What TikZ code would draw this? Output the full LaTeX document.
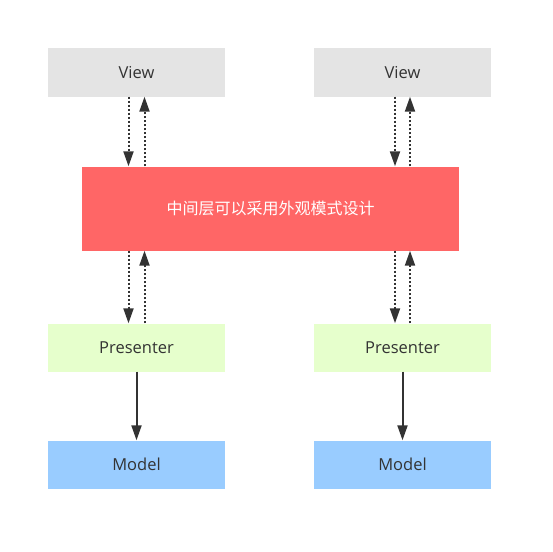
\documentclass[tikz,border=0pt]{standalone}
\usepackage{fontspec}
\setmainfont{Open Sans}
\newfontfamily\cjk{Noto Sans CJK SC}
\usetikzlibrary{arrows.meta}
\definecolor{viewc}{HTML}{E4E4E4}
\definecolor{midc}{HTML}{FF6666}
\definecolor{presc}{HTML}{E6FFCC}
\definecolor{modc}{HTML}{99CCFF}
\definecolor{ink}{HTML}{333333}
\begin{document}
\begin{tikzpicture}[x=1pt,y=-1pt,
  boxx/.style={draw=none,minimum width=177pt,minimum height=48pt,inner sep=0pt,font=\fontsize{16.5}{20}\selectfont,text=ink},
  dotarrow/.style={ink,line width=2pt,dash pattern=on 2pt off 2pt,-{Triangle[length=15pt,width=10pt]}},
  solidarrow/.style={ink,line width=2pt,-{Triangle[length=15pt,width=10pt]}}]
\useasboundingbox (0,0) rectangle (553,551);
\fill[white] (0,0) rectangle (553,551);
\node[boxx,fill=viewc] (v1) at (136.5,72.5) {View};
\node[boxx,fill=viewc] (v2) at (402.5,72.5) {View};
\node[boxx,fill=midc,minimum width=377pt,minimum height=84pt,text=white,font=\cjk\fontsize{16}{20}\selectfont] (mid) at (270.5,208.5) {中间层可以采用外观模式设计};
\node[boxx,fill=presc] (p1) at (136.5,347.5) {Presenter};
\node[boxx,fill=presc] (p2) at (402.5,347.5) {Presenter};
\node[boxx,fill=modc] (m1) at (136.5,464.5) {Model};
\node[boxx,fill=modc] (m2) at (402.5,464.5) {Model};
% upper arrows
\draw[dotarrow] (v1.south -| 128.5,0) -- (mid.north -| 128.5,0);
\draw[dotarrow] (mid.north -| 144.5,0) -- (v1.south -| 144.5,0);
\draw[dotarrow] (v2.south -| 395,0) -- (mid.north -| 395,0);
\draw[dotarrow] (mid.north -| 410,0) -- (v2.south -| 410,0);
% lower arrows
\draw[dotarrow] (mid.south -| 128.5,0) -- (p1.north -| 128.5,0);
\draw[dotarrow] (p1.north -| 144.5,0) -- (mid.south -| 144.5,0);
\draw[dotarrow] (mid.south -| 395,0) -- (p2.north -| 395,0);
\draw[dotarrow] (p2.north -| 410,0) -- (mid.south -| 410,0);
% presenter to model
\draw[solidarrow] (p1) -- (m1);
\draw[solidarrow] (p2) -- (m2);
\end{tikzpicture}
\end{document}
